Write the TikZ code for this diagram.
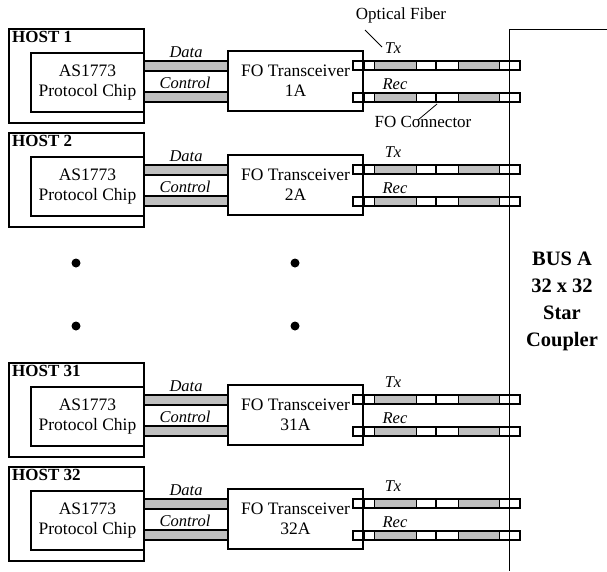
\documentclass[tikz,border=0pt]{standalone}
\usepackage{fontspec}
\setmainfont{Liberation Serif}

\tikzset{
  box/.style={draw, line width=1.2pt, inner sep=0pt, align=center,
    font=\fontsize{17.5}{20}\selectfont},
  bus/.style={draw, line width=1.2pt, fill=black!25},
  fiber/.style={draw, line width=1.2pt},
  sig/.style={inner sep=0pt, font=\itshape\fontsize{16.5}{16}\selectfont},
  note/.style={inner sep=0pt, font=\fontsize{17}{17}\selectfont},
}

\begin{document}
\begin{tikzpicture}[x=1pt,y=-1pt]
\useasboundingbox (0,0) rectangle (607,571);

% one row per host
\foreach \off/\n in {0/1,104/2,334/31,438/32}{
\begin{scope}[shift={(0,\off)}]
\node[box, minimum width=135pt, minimum height=94pt] (host\n) at (76.5,76) {};
\node[anchor=north west, inner sep=0pt, font=\bfseries\fontsize{17}{17}\selectfont] (name\n) at (12,31) {HOST \n};
\node[box, minimum width=113pt, minimum height=59pt] (chip\n) at (87.5,82.5) {AS1773\\Protocol Chip};
\node[box, minimum width=135pt, minimum height=60pt] (xcvr\n) at (295.5,81) {FO Transceiver\\\n A};
\draw[bus] (chip\n.east |- 0,61) rectangle (xcvr\n.west |- 0,71);
\draw[bus] (chip\n.east |- 0,92) rectangle (xcvr\n.west |- 0,102);
\node[sig] (data\n) at (186,52) {Data};
\node[sig] (ctrl\n) at (185,83) {Control};
\foreach \y in {61,93}{
  \fill[black!25] (374,\y) rectangle (416,\y+9) (458,\y) rectangle (499,\y+9);
  \foreach \x in {364,374,416,458,499,509} \draw[line width=0.8pt] (\x,\y) -- (\x,\y+9);
  \draw[line width=2pt] (436,\y) -- (436,\y+9);
  \draw[fiber] (353,\y) rectangle (520,\y+9);
}
\node[sig] (tx\n) at (393,48) {Tx};
\node[sig] (rec\n) at (395,84) {Rec};
\end{scope}
}

% labels on the first row
\node[note] (ofib) at (401,15) {Optical Fiber};
\coordinate (of1) at (365,30);
\coordinate (of2) at (382,47);
\draw[line width=0.8pt] (of1) -- (of2);
\node[note] (focon) at (423,122) {FO Connector};
\coordinate (fc1) at (437,104);
\coordinate (fc2) at (418,120);
\draw[line width=0.8pt] (fc1) -- (fc2);

% star coupler
\coordinate (cpl) at (509,29);
\draw[line width=0.8pt] (607,29) -- (cpl) -- (509,571);
\node[align=center, font=\bfseries\fontsize{20.5}{27}\selectfont] (bus) at (562,301) {BUS A\\32 x 32\\Star\\Coupler};

\foreach \x in {76,295} \foreach \y in {263,326} \fill (\x,\y) circle (4.5pt);
\end{tikzpicture}
\end{document}
